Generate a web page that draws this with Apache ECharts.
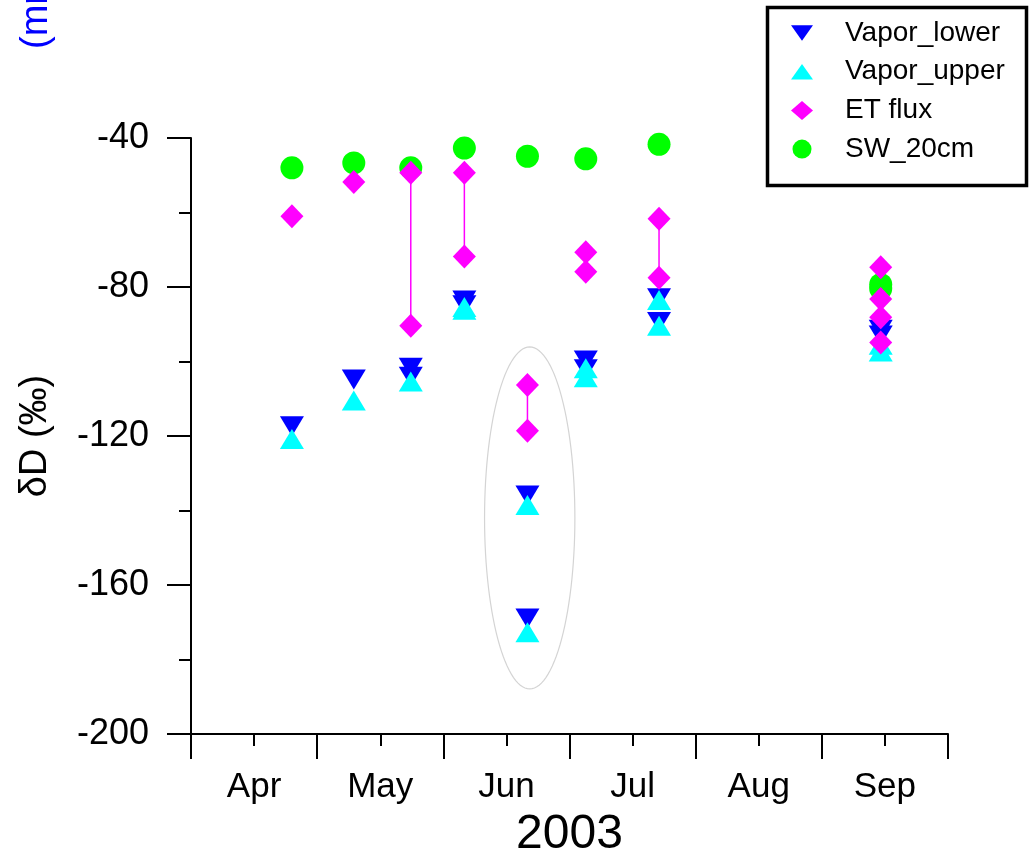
<!DOCTYPE html>
<html>
<head>
<meta charset="utf-8">
<title>δD of vapor, ET flux and soil water, 2003</title>
<script src="https://cdn.jsdelivr.net/npm/echarts@6/dist/echarts.min.js"></script>
<style>
  html, body { margin: 0; padding: 0; background: #ffffff; overflow: hidden; }
  #chart { width: 1031px; height: 864px; }
</style>
</head>
<body>
<div id="chart"></div>
<script>
// Sampling dates (2003)
const sampleDates = ['2003-04-25', '2003-05-10', '2003-05-24', '2003-06-06',
                     '2003-06-21', '2003-07-05', '2003-07-23', '2003-09-15'];

// Month labels for the x axis
const monthLabels = ['Apr', 'May', 'Jun', 'Jul', 'Aug', 'Sep'];

// δD (‰) values per sampling date (several samples may share a date)
const vaporLower = [[-117.4], [-104.8], [-101.7, -104.1], [-83.6, -84.9],
                    [-136.0, -169.0], [-99.7, -102.1], [-83.0, -89.4], [-91.5, -93.0]];
const vaporUpper = [[-120.8], [-110.5], [-105.4], [-85.4, -86.1],
                    [-138.5, -172.7], [-101.8, -104.2], [-83.5, -90.4], [-95.5, -97.3]];
const etFlux     = [[-61.0], [-51.8], [-49.3, -90.4], [-49.3, -71.8],
                    [-106.3, -118.6], [-70.7, -75.9], [-61.7, -77.5], [-74.7, -83.2, -88.1, -94.9]];
const sw20cm     = [[-48.0], [-46.7], [-48.0], [-42.7], [-44.9], [-45.6], [-41.7], [-79.3, -80.5]];

// Dates whose ET flux estimates are joined by a range line
const etLinkedDates = ['2003-05-24', '2003-06-06', '2003-06-21', '2003-07-23'];

// Y axis ticks
const yMin = -200, yMax = -40, yStep = 40;

const FONT = '"Liberation Sans", Arial, sans-serif';

// Position along the month axis: 0 = 1 Apr, 1 = 1 May, ... 6 = 1 Oct
function monthPos(dateStr) {
  const [y, m, d] = dateStr.split('-').map(Number);
  const daysInMonth = new Date(Date.UTC(y, m, 0)).getUTCDate();
  return (m - 4) + (d - 1) / daysInMonth;
}

function toPoints(groups) {
  const out = [];
  groups.forEach((vals, i) => {
    const x = monthPos(sampleDates[i]);
    vals.forEach(v => out.push([x, v]));
  });
  return out;
}

const etRanges = etLinkedDates.map(ds => {
  const vals = etFlux[sampleDates.indexOf(ds)];
  return [monthPos(ds), Math.max(...vals), Math.min(...vals)];
});

// Ellipse drawn around the 21 June samples: centre and half-extent in data units
const ellipseData = [[monthPos('2003-06-21') + 0.018, -142, 0.358, 45.9]];

const chart = echarts.init(document.getElementById('chart'), null, { renderer: 'canvas', width: 1031, height: 864 });

const axisLine = { show: true, lineStyle: { color: '#000', width: 2 } };

const option = {
  backgroundColor: '#ffffff',
  animation: false,
  grid: { left: 191, top: 138, width: 757, height: 606, containLabel: false },
  xAxis: [
    {
      type: 'value',
      min: 0, max: 6, interval: 1,
      axisLine: axisLine,
      axisTick: { show: true, length: 25, lineStyle: { color: '#000', width: 2 } },
      minorTick: { show: true, splitNumber: 2, length: 12, lineStyle: { color: '#000', width: 2 } },
      axisLabel: { show: false },
      splitLine: { show: false },
      minorSplitLine: { show: false }
    },
    {
      type: 'category',
      data: monthLabels,
      boundaryGap: true,
      position: 'bottom',
      axisLine: { show: false },
      axisTick: { show: false },
      axisLabel: { show: true, color: '#000', fontSize: 35, fontFamily: FONT, margin: 36 },
      splitLine: { show: false },
      name: '2003',
      nameLocation: 'middle',
      nameGap: 77,
      nameTextStyle: { color: '#000', fontSize: 48, fontFamily: FONT }
    }
  ],
  yAxis: {
    type: 'value',
    min: yMin, max: yMax, interval: yStep,
    axisLine: axisLine,
    axisTick: { show: true, length: 24, lineStyle: { color: '#000', width: 2 } },
    minorTick: { show: true, splitNumber: 2, length: 12, lineStyle: { color: '#000', width: 2 } },
    axisLabel: { color: '#000', fontSize: 36, fontFamily: FONT, margin: 42 },
    splitLine: { show: false },
    minorSplitLine: { show: false },
    name: 'δD (‰)',
    nameLocation: 'middle',
    nameGap: 136,
    nameRotate: 90,
    nameTextStyle: { color: '#000', fontSize: 38, fontFamily: FONT }
  },
  legend: {
    orient: 'vertical',
    left: 791,
    top: 18,
    padding: 0,
    itemWidth: 22,
    itemHeight: 19,
    itemGap: 8.7,
    data: [
      { name: 'Vapor_lower', icon: 'path://M0,0L24,0L12,17Z' },
      { name: 'Vapor_upper', icon: 'path://M12,0L24,17L0,17Z' },
      { name: 'ET flux' },
      { name: 'SW_20cm' }
    ],
    textStyle: { color: '#000', fontSize: 28, fontFamily: FONT, lineHeight: 30, padding: [0, 0, 0, 27] }
  },
  graphic: [
    { type: 'rect', left: 765, top: 5, z: 100,
      shape: { width: 259, height: 178 },
      style: { fill: 'none', stroke: '#000', lineWidth: 3.5 } },
    { type: 'text', x: 37, y: 49, rotation: Math.PI / 2, z: 100,
      style: { text: '(mm)', fill: '#0000ff', font: '38px ' + FONT, align: 'left', verticalAlign: 'middle' } },
    { type: 'text', x: -16, y: 28, rotation: Math.PI / 2, z: 100,
      style: { text: 'δD (‰)', fill: '#000', font: '37px ' + FONT, align: 'left', verticalAlign: 'middle' } }
  ],
  series: [
    {
      name: 'highlight',
      type: 'custom',
      xAxisIndex: 0,
      silent: true,
      z: 1,
      data: ellipseData,
      renderItem: function (params, api) {
        const c = api.coord([api.value(0), api.value(1)]);
        const s = api.size([api.value(2), api.value(3)]);
        const pts = [];
        for (let k = 0; k < 120; k++) {
          const t = (k / 120) * Math.PI * 2;
          pts.push([c[0] + s[0] * Math.cos(t), c[1] + s[1] * Math.sin(t)]);
        }
        return { type: 'polygon', shape: { points: pts },
                 style: { fill: 'none', stroke: '#d4d4d4', lineWidth: 1.2 } };
      }
    },
    {
      name: 'SW_20cm',
      type: 'scatter',
      xAxisIndex: 0,
      symbol: 'circle',
      symbolSize: 23,
      itemStyle: { color: '#00ff00', opacity: 1 },
      data: toPoints(sw20cm)
    },
    {
      name: 'Vapor_lower',
      type: 'scatter',
      xAxisIndex: 0,
      symbol: 'triangle',
      symbolRotate: 180,
      symbolSize: [24, 20],
      itemStyle: { color: '#0000ff', opacity: 1 },
      data: toPoints(vaporLower)
    },
    {
      name: 'Vapor_upper',
      type: 'scatter',
      xAxisIndex: 0,
      symbol: 'triangle',
      symbolSize: [24, 20],
      itemStyle: { color: '#00ffff', opacity: 1 },
      data: toPoints(vaporUpper)
    },
    {
      name: 'ET range',
      type: 'custom',
      xAxisIndex: 0,
      silent: true,
      encode: { x: 0, y: [1, 2] },
      data: etRanges,
      renderItem: function (params, api) {
        const a = api.coord([api.value(0), api.value(1)]);
        const b = api.coord([api.value(0), api.value(2)]);
        return { type: 'line', shape: { x1: a[0], y1: a[1], x2: b[0], y2: b[1] },
                 style: { stroke: '#ff00ff', lineWidth: 1.5 } };
      }
    },
    {
      name: 'ET flux',
      type: 'scatter',
      xAxisIndex: 0,
      symbol: 'diamond',
      symbolSize: [23, 24],
      itemStyle: { color: '#ff00ff', opacity: 1 },
      data: toPoints(etFlux)
    }
  ]
};

chart.setOption(option);
</script>
</body>
</html>
